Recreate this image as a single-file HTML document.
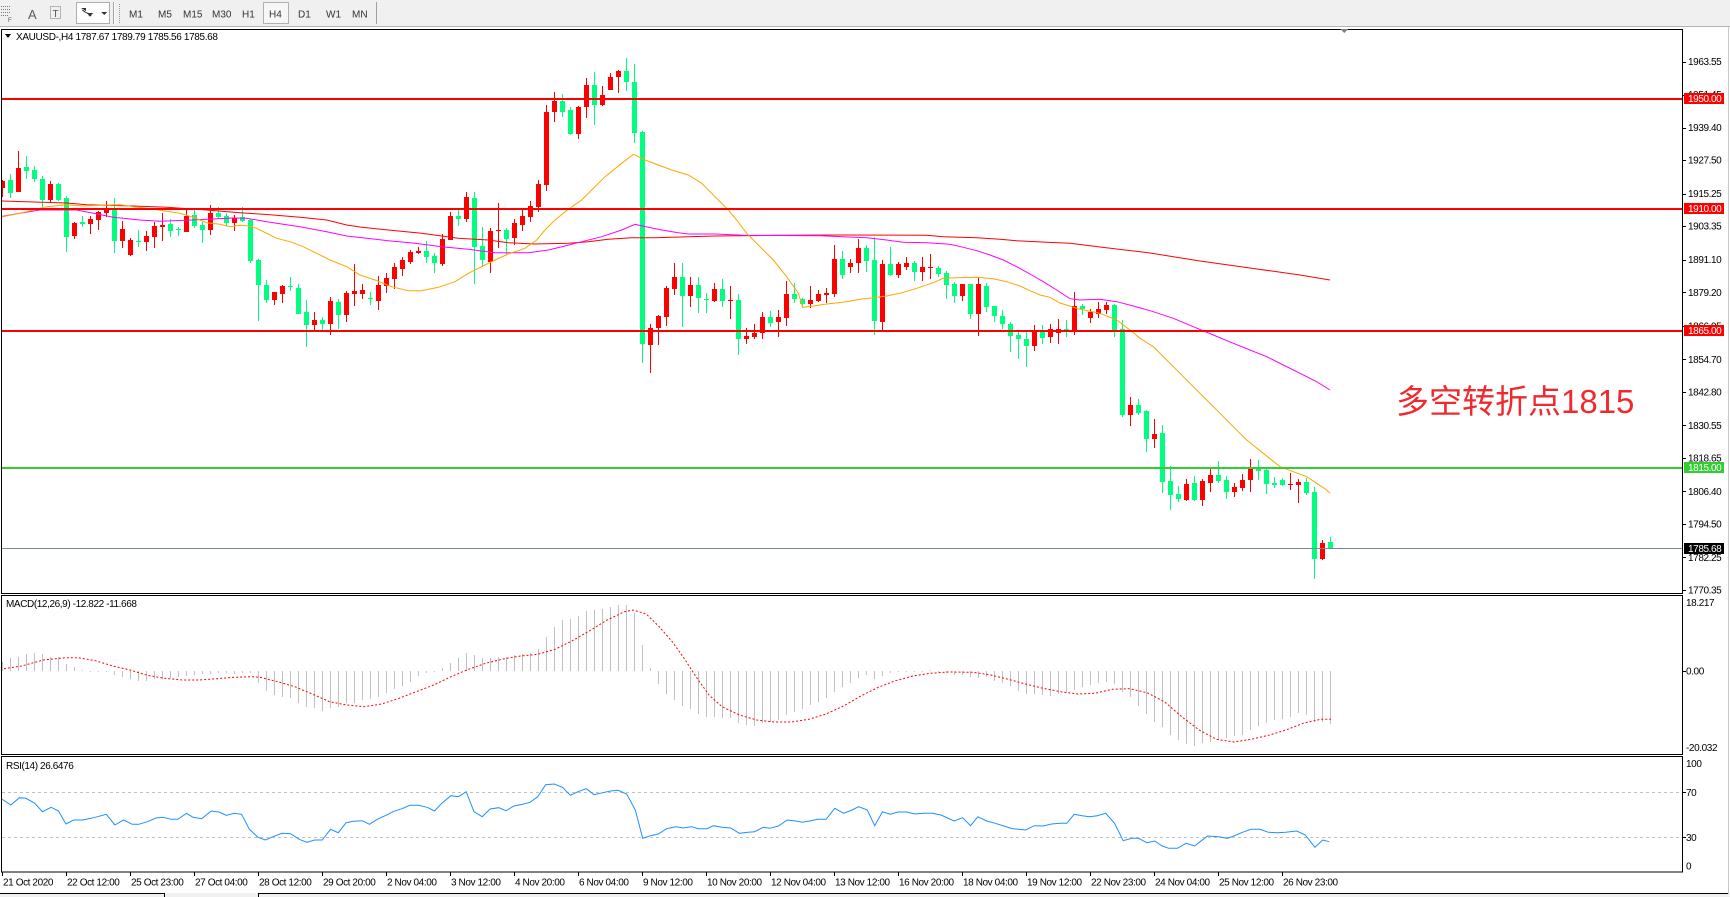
<!DOCTYPE html>
<html><head><meta charset="utf-8">
<style>
html,body{margin:0;padding:0;background:#fff;width:1730px;height:897px;overflow:hidden}
svg{display:block}
text{font-family:"Liberation Sans","Noto Sans CJK SC",sans-serif}
.ax{font-size:10px;letter-spacing:-0.4px;fill:#000}
.tb{font-size:10px;fill:#333}
</style></head><body>
<svg id="c" xmlns="http://www.w3.org/2000/svg" width="1730" height="897" viewBox="0 0 1730 897" shape-rendering="crispEdges">
<defs>
<clipPath id="cm"><rect x="2" y="30" width="1680" height="563"/></clipPath>
<clipPath id="cmacd"><rect x="2" y="596" width="1680" height="158"/></clipPath>
<clipPath id="crsi"><rect x="2" y="757" width="1680" height="115"/></clipPath>
</defs>
<rect x="0" y="0" width="1730" height="897" fill="#fff"/>
<!-- toolbar -->
<rect x="0" y="0" width="1730" height="26" fill="#f0f0f0"/>
<line x1="0" y1="26.5" x2="1730" y2="26.5" stroke="#b4b4b4"/>
<g stroke="#7a7a7a" stroke-dasharray="1 1">
<line x1="1" y1="6.5" x2="10" y2="6.5"/><line x1="1" y1="9.5" x2="10" y2="9.5"/><line x1="1" y1="12.5" x2="10" y2="12.5"/><line x1="1" y1="15.5" x2="8" y2="15.5"/>
</g>
<text x="8" y="22" style="font-size:6px;fill:#555">F</text>
<text x="28" y="19" style="font-size:13px;fill:#5a5a5a">A</text>
<rect x="50.5" y="6.5" width="10" height="12" fill="none" stroke="#777" stroke-dasharray="1 1"/>
<text x="52.5" y="17" style="font-size:10px;fill:#555">T</text>
<rect x="76.5" y="2.5" width="33" height="21" fill="#fdfdfd" stroke="#adadad"/>
<polygon points="81,8 86,8 86,11" fill="#333"/><polygon points="87,13 93,13 90,17" fill="#333"/><line x1="82" y1="10" x2="90" y2="15" stroke="#333"/>
<polygon points="101,12 107,12 104,15" fill="#333"/>
<line x1="113.5" y1="2" x2="113.5" y2="24" stroke="#a0a0a0"/><line x1="114.5" y1="2" x2="114.5" y2="24" stroke="#fff"/>
<line x1="119.5" y1="4" x2="119.5" y2="23" stroke="#999" stroke-dasharray="1 1"/>
<rect x="263.5" y="2.5" width="25" height="21" fill="#f7f7f7" stroke="#b0b0b0"/>
<text class="tb" x="129" y="17.5">M1</text>
<text class="tb" x="158" y="17.5">M5</text>
<text class="tb" x="183" y="17.5">M15</text>
<text class="tb" x="212" y="17.5">M30</text>
<text class="tb" x="242" y="17.5">H1</text>
<text class="tb" x="269" y="17.5">H4</text>
<text class="tb" x="298" y="17.5">D1</text>
<text class="tb" x="326" y="17.5">W1</text>
<text class="tb" x="352" y="17.5">MN</text>
<line x1="376.5" y1="2" x2="376.5" y2="24" stroke="#a0a0a0"/>

<!-- window frames -->
<rect x="1.5" y="29.5" width="1681" height="564" fill="#fff" stroke="#000"/>
<rect x="1.5" y="595.5" width="1681" height="159" fill="#fff" stroke="#000"/>
<rect x="1.5" y="756.5" width="1681" height="115.5" fill="#fff" stroke="#000"/>
<polygon points="1340,29 1348,29 1344,33" fill="#808080"/>

<!-- main chart layers -->
<g id="cd" clip-path="url(#cm)"></g>
<g id="ma" clip-path="url(#cm)" shape-rendering="auto"></g>
<g clip-path="url(#cm)">
<rect x="2" y="98" width="1680" height="2" fill="#ff0000"/>
<rect x="2" y="208" width="1680" height="2" fill="#ff0000"/>
<rect x="2" y="330" width="1680" height="2" fill="#ff0000"/>
<rect x="2" y="467" width="1680" height="2" fill="#32cd32"/>
<rect x="2" y="548" width="1680" height="1" fill="#778899"/>
</g>
<text x="1396" y="413" style="font-size:33px;fill:#ee2a2f;font-family:'Liberation Sans','Noto Sans CJK SC',sans-serif">多空转折点1815</text>

<polygon points="5,34 11,34 8,38" fill="#000"/>
<text class="ax" x="16" y="40" style="letter-spacing:-0.35px">XAUUSD-,H4  1787.67 1789.79 1785.56 1785.68</text>

<!-- price axis -->
<g stroke="#000">
<line x1="1683" y1="62.5" x2="1686" y2="62.5"/><line x1="1683" y1="95.5" x2="1686" y2="95.5"/><line x1="1683" y1="128.5" x2="1686" y2="128.5"/><line x1="1683" y1="160.5" x2="1686" y2="160.5"/><line x1="1683" y1="194.5" x2="1686" y2="194.5"/><line x1="1683" y1="226.5" x2="1686" y2="226.5"/><line x1="1683" y1="260.5" x2="1686" y2="260.5"/><line x1="1683" y1="292.5" x2="1686" y2="292.5"/><line x1="1683" y1="326.5" x2="1686" y2="326.5"/><line x1="1683" y1="359.5" x2="1686" y2="359.5"/><line x1="1683" y1="392.5" x2="1686" y2="392.5"/><line x1="1683" y1="425.5" x2="1686" y2="425.5"/><line x1="1683" y1="458.5" x2="1686" y2="458.5"/><line x1="1683" y1="491.5" x2="1686" y2="491.5"/><line x1="1683" y1="524.5" x2="1686" y2="524.5"/><line x1="1683" y1="557.5" x2="1686" y2="557.5"/><line x1="1683" y1="590.5" x2="1686" y2="590.5"/>
<line x1="1683" y1="671.5" x2="1686" y2="671.5"/><line x1="1683" y1="792.5" x2="1686" y2="792.5"/><line x1="1683" y1="837.5" x2="1686" y2="837.5"/>
</g>
<text class="ax" x="1688" y="65.2">1963.55</text>
<text class="ax" x="1688" y="98.2">1951.45</text>
<text class="ax" x="1688" y="131.2">1939.40</text>
<text class="ax" x="1688" y="163.7">1927.50</text>
<text class="ax" x="1688" y="197.2">1915.25</text>
<text class="ax" x="1688" y="229.7">1903.35</text>
<text class="ax" x="1688" y="263.2">1891.10</text>
<text class="ax" x="1688" y="295.8">1879.20</text>
<text class="ax" x="1688" y="329.3">1866.95</text>
<text class="ax" x="1688" y="362.8">1854.70</text>
<text class="ax" x="1688" y="395.3">1842.80</text>
<text class="ax" x="1688" y="428.8">1830.55</text>
<text class="ax" x="1688" y="461.3">1818.65</text>
<text class="ax" x="1688" y="494.8">1806.40</text>
<text class="ax" x="1688" y="527.3">1794.50</text>
<text class="ax" x="1688" y="560.8">1782.25</text>
<text class="ax" x="1688" y="593.4">1770.35</text>
<rect x="1684" y="93" width="40" height="11" fill="#ff0000"/>
<text class="ax" x="1688" y="102.2" style="fill:#fff">1950.00</text>
<rect x="1684" y="203" width="40" height="11" fill="#ff0000"/>
<text class="ax" x="1688" y="212.2" style="fill:#fff">1910.00</text>
<rect x="1684" y="325" width="40" height="11" fill="#ff0000"/>
<text class="ax" x="1688" y="334.2" style="fill:#fff">1865.00</text>
<rect x="1684" y="462" width="40" height="11" fill="#32cd32"/>
<text class="ax" x="1688" y="471.2" style="fill:#fff">1815.00</text>
<rect x="1684" y="543" width="40" height="11" fill="#000"/>
<text class="ax" x="1688" y="552.2" style="fill:#fff">1785.68</text>

<!-- MACD -->
<g id="macd" clip-path="url(#cmacd)"></g>
<text class="ax" x="6" y="607">MACD(12,26,9) -12.822 -11.668</text>
<text class="ax" x="1686" y="606">18.217</text>
<text class="ax" x="1686" y="674.6">0.00</text>
<text class="ax" x="1686" y="751">-20.032</text>

<!-- RSI -->
<g clip-path="url(#crsi)">
<line x1="2" y1="792.5" x2="1682" y2="792.5" stroke="#c0c0c0" stroke-dasharray="3 3"/>
<line x1="2" y1="837.5" x2="1682" y2="837.5" stroke="#c0c0c0" stroke-dasharray="3 3"/>
</g>
<g id="rsi" clip-path="url(#crsi)" shape-rendering="auto"></g>
<text class="ax" x="6" y="769">RSI(14) 26.6476</text>
<text class="ax" x="1686" y="767">100</text>
<text class="ax" x="1686" y="796">70</text>
<text class="ax" x="1686" y="841">30</text>
<text class="ax" x="1686" y="869.5">0</text>

<!-- date axis -->
<g stroke="#000">
<line x1="2.5" y1="872" x2="2.5" y2="876"/><line x1="66.5" y1="872" x2="66.5" y2="876"/><line x1="130.5" y1="872" x2="130.5" y2="876"/><line x1="194.5" y1="872" x2="194.5" y2="876"/><line x1="258.5" y1="872" x2="258.5" y2="876"/><line x1="322.5" y1="872" x2="322.5" y2="876"/><line x1="386.5" y1="872" x2="386.5" y2="876"/><line x1="450.5" y1="872" x2="450.5" y2="876"/><line x1="514.5" y1="872" x2="514.5" y2="876"/><line x1="578.5" y1="872" x2="578.5" y2="876"/><line x1="642.5" y1="872" x2="642.5" y2="876"/><line x1="706.5" y1="872" x2="706.5" y2="876"/><line x1="770.5" y1="872" x2="770.5" y2="876"/><line x1="834.5" y1="872" x2="834.5" y2="876"/><line x1="898.5" y1="872" x2="898.5" y2="876"/><line x1="962.5" y1="872" x2="962.5" y2="876"/><line x1="1026.5" y1="872" x2="1026.5" y2="876"/><line x1="1090.5" y1="872" x2="1090.5" y2="876"/><line x1="1154.5" y1="872" x2="1154.5" y2="876"/><line x1="1218.5" y1="872" x2="1218.5" y2="876"/><line x1="1282.5" y1="872" x2="1282.5" y2="876"/>
</g>
<text class="ax" x="3" y="885.5">21 Oct 2020</text>
<text class="ax" x="67" y="885.5">22 Oct 12:00</text>
<text class="ax" x="131" y="885.5">25 Oct 23:00</text>
<text class="ax" x="195" y="885.5">27 Oct 04:00</text>
<text class="ax" x="259" y="885.5">28 Oct 12:00</text>
<text class="ax" x="323" y="885.5">29 Oct 20:00</text>
<text class="ax" x="387" y="885.5">2 Nov 04:00</text>
<text class="ax" x="451" y="885.5">3 Nov 12:00</text>
<text class="ax" x="515" y="885.5">4 Nov 20:00</text>
<text class="ax" x="579" y="885.5">6 Nov 04:00</text>
<text class="ax" x="643" y="885.5">9 Nov 12:00</text>
<text class="ax" x="707" y="885.5">10 Nov 20:00</text>
<text class="ax" x="771" y="885.5">12 Nov 04:00</text>
<text class="ax" x="835" y="885.5">13 Nov 12:00</text>
<text class="ax" x="899" y="885.5">16 Nov 20:00</text>
<text class="ax" x="963" y="885.5">18 Nov 04:00</text>
<text class="ax" x="1027" y="885.5">19 Nov 12:00</text>
<text class="ax" x="1091" y="885.5">22 Nov 23:00</text>
<text class="ax" x="1155" y="885.5">24 Nov 04:00</text>
<text class="ax" x="1219" y="885.5">25 Nov 12:00</text>
<text class="ax" x="1283" y="885.5">26 Nov 23:00</text>

<!-- bottom tabs / edges -->
<rect x="0" y="893" width="1730" height="4" fill="#f0f0f0"/>
<line x1="0" y1="893.5" x2="164" y2="893.5" stroke="#000"/>
<line x1="258" y1="893.5" x2="1728" y2="893.5" stroke="#000"/>
<line x1="164.5" y1="893" x2="164.5" y2="897" stroke="#000"/>
<line x1="258.5" y1="893" x2="258.5" y2="897" stroke="#000"/>
<line x1="1728.5" y1="27" x2="1728.5" y2="894" stroke="#c8c8c8"/>
</svg>
<script>
(function(){
var NS='http://www.w3.org/2000/svg';
function mk(t,a,p){var e=document.createElementNS(NS,t);for(var k in a)e.setAttribute(k,a[k]);p.appendChild(e);return e;}
var A=[[1,152,175,150,200],[0,150,188,132,203],[1,114,185,63,185],[0,111,122,78,147],[0,120,147,108,155],[0,148,210,138,232],[1,162,210,153,216],[0,162,210,158,214],[0,204,320,197,365],[1,279,318,275,327],[0,276,281,258,290],[1,267,281,258,311],[1,246,269,243,299],[1,237,248,213,260],[0,238,332,205,368],[1,297,332,273,355],[1,330,375,324,377],[0,333,335,300,350],[1,318,335,303,363],[1,289,320,275,353],[1,286,290,249,332],[0,282,302,267,320],[0,298,300,292,317],[1,259,305,237,305],[0,256,287,240,293],[0,285,299,277,338],[1,249,299,226,314],[0,250,262,230,268],[0,258,278,248,288],[1,265,278,255,302],[0,262,272,232,275],[0,270,393,268,398],[0,390,464,386,572],[0,464,509,450,519],[1,487,509,485,524],[1,468,491,466,518],[0,468,472,441,483],[0,474,551,462,551],[0,546,584,510,650],[1,570,584,547,600],[0,570,581,561,600],[1,513,581,501,614],[0,516,554,508,597],[1,490,554,483,576],[1,483,491,401,527]];
var B=[[1,720,731,703,746],[0,744,748,727,765],[1,705,752,678,780],[1,684,708,670,728],[1,651,687,640,718],[1,630,656,620,678],[1,606,635,600,641],[1,603,608,591,613],[0,603,621,574,638],[0,618,639,609,668],[1,567,641,551,648],[1,498,569,486,569],[0,498,506,480,528],[1,441,506,426,515],[0,444,590,426,702],[0,588,630,530,650],[1,543,636,535,668],[1,540,542,460,593],[0,540,567,533,612],[1,519,563,508,585],[1,497,524,480,542],[1,468,500,452,515],[1,402,470,390,487],[1,186,405,165,422],[1,153,187,126,215],[0,153,185,132,200],[0,180,251,170,255],[1,171,251,168,268],[1,105,170,84,203],[0,105,164,66,224],[1,135,165,108,168],[1,81,119,69,119],[1,62,82,59,130],[0,63,95,24,122],[0,96,248,42,278],[0,246,881,244,938],[1,834,884,822,968],[1,798,833,796,886],[1,714,800,708,827],[1,681,716,638,735],[0,681,737,638,830],[1,705,737,682,770],[0,705,745,682,790],[0,746,751,728,790]];
var C=[[1,268,303,250,306],[0,268,302,238,320],[1,299,304,259,358],[0,300,416,283,466],[1,408,416,385,433],[1,398,410,373,416],[1,351,398,337,416],[0,351,368,333,380],[1,351,366,330,410],[1,282,354,243,377],[0,282,298,250,310],[0,297,312,293,325],[1,300,312,259,325],[1,282,303,270,306],[1,279,285,265,310],[1,177,282,135,290],[0,177,225,153,236],[1,188,200,176,220],[1,144,190,118,220],[0,144,182,135,215],[0,180,362,112,404],[1,192,365,180,390],[0,192,225,141,228],[1,192,225,185,233],[1,188,200,170,210],[0,188,215,183,242],[1,201,215,170,242],[1,201,203,162,236],[0,204,222,199,230],[0,220,255,213,298],[0,251,287,245,308],[1,251,287,251,302],[0,251,342,251,358],[1,251,342,232,408],[0,258,320,250,335],[0,318,347,318,366],[0,347,373,330,388],[0,371,408,365,456],[0,405,417,395,478],[0,417,438,395,500],[1,390,438,375,452],[0,392,413,376,432],[1,387,410,372,430],[1,387,398,357,432],[0,387,392,360,410]];
var D=[[1,78,153,36,165],[0,77,86,72,105],[1,97,113,88,128],[1,87,102,66,113],[1,75,90,66,102],[0,75,152,72,170],[0,148,405,120,410],[1,375,405,351,437],[0,375,398,357,405],[0,392,478,389,515],[1,462,478,416,503],[0,460,605,435,640],[0,603,645,557,690],[0,642,657,618,665],[1,612,660,597,662],[0,609,660,587,662],[1,603,660,597,677],[1,585,608,567,635],[0,585,603,543,608],[0,600,635,587,657],[1,621,635,609,651],[1,600,624,582,633],[1,567,600,537,636],[0,565,572,540,600],[0,570,611,563,642],[0,609,615,591,625],[0,600,614,594,617],[1,611,614,578,630],[1,605,614,597,668],[0,605,638,594,645],[0,636,836,621,898],[1,790,836,780,840],[0,786,806,770,806]];
var gC=document.getElementById('cd');
function seg(arr,oy,k0){for(var i=0;i<arr.length;i++){var c=arr[i],k=k0+i,x=8*k,col=c[0]?'#ff0000':'#00ff7f';
var wt=Math.round(oy+c[3]/3),wb=Math.round(oy+c[4]/3),bt=Math.round(oy+c[1]/3),bb=Math.round(oy+c[2]/3);
if(wb<=wt)wb=wt+1;if(bb<=bt)bb=bt+1;
mk('rect',{x:x+2,y:wt,width:1,height:wb-wt,fill:col},gC);
mk('rect',{x:x,y:bt,width:5,height:bb-bt,fill:col},gC);}}
seg(A,130,0);seg(B,50,45);seg(C,200,89);seg(D,280,134);
function pl(arr,stroke,parent,extra){var s='';for(var i=0;i<arr.length;i+=2)s+=(+arr[i]).toFixed(1)+','+(+arr[i+1]).toFixed(1)+' ';var a={points:s,fill:'none',stroke:stroke,'stroke-width':1};if(extra)for(var k in extra)a[k]=extra[k];return mk('polyline',a,parent);}
var gM=document.getElementById('ma');
var red=[0,201,66.7,203,86.7,204.7,133.3,206,166.7,207.3,206.7,210,240,212.7,273.3,215,300,217.3,326.7,220,346.7,225,360,227,388.3,230,421.7,233.3,441.7,236,458.3,238.3,488.3,240,508.3,242.7,535,244,568.3,243.3,588.3,241.7,608.3,239.3,631.7,237.7,655,237.7,688.3,236.7,715,236,776.7,235.3,843.3,235,926.7,235.3,943.3,236.7,976.7,237.7,1000,239.3,1016.7,240.7,1046.7,242.3,1070,243.3,1100,247,1150,253,1200,261,1250,268,1300,275,1330,280];
var mag=[0,216.7,20,213.3,40,210,63.3,210,76.7,210,93.3,213.3,113.3,217.3,140,220,160,221.3,186.7,220.3,233.3,218,246.7,218.3,266.7,221.7,300,226.7,326.7,231.7,346.7,236,360,237.5,388.3,240.7,415,243.3,441.7,246.7,468.3,249.3,495,252.7,528.3,252.7,548.3,250,565,246,581.7,241.7,601.7,236.7,621.7,230,635,224.3,648.3,227.3,661.7,230,678.3,232.7,688.3,234,715,234,743.3,235.3,820,235.7,866.7,237.7,886.7,240,903.3,242.3,926.7,242.7,950,244.3,963.3,247.3,976.7,250.7,990,255,1003.3,260,1016.7,266.7,1030,274,1043.3,281.7,1056.7,290,1070,298.7,1080,300,1100,299.3,1116.7,301.7,1133.3,306,1153.3,311.7,1173.3,318.3,1193.3,326.7,1213.3,335,1233.3,343.3,1250,350,1266.7,356.7,1283.3,365,1300,373.3,1316.7,381.7,1330,390];
var ora=[0,217.3,20,213.3,33.3,210,46.7,206.7,66.7,204.7,83.3,206,100,205.3,120,204.7,133.3,206.7,146.7,208.3,163.3,210.7,180,213.3,193.3,217.3,206.7,222.7,220,224.3,230,226.7,240,225.3,246.7,225.7,256.7,228.3,266.7,233.3,276.7,238.3,290,241.7,303.3,246.7,316.7,253.3,330,260,346.7,266.7,360,275,375,280,391.7,286.7,408.3,290.7,421.7,290.7,438.3,287.3,455,281.7,468.3,273.3,481.7,266.7,495,260,508.3,254,525,248.3,536.7,240,545,230,555,220,568.3,209.3,581.7,200,591.7,190,605,176.7,621.7,163.3,633.3,154.3,645,160,658.3,165,671.7,170,688.3,175,701.7,183.3,715,196.7,718.3,200,728.3,210,736.7,220,746.7,233.3,760,246.7,773.3,260,786.7,276.7,798.3,293.3,802.7,307.3,813.3,306,826.7,304,846.7,301.7,860,299.3,873.3,297.7,886.7,296,900,293.3,916.7,288.3,933.3,282.7,943.3,278.3,956.7,277.7,976.7,277.3,993.3,278.7,1006.7,281.7,1020,286,1030,290.7,1040,295,1050,297.3,1060,303,1080,309.3,1100,313.3,1116.7,320,1130,330,1140,338.3,1153.3,346.7,1166.7,360,1180,373.3,1193.3,386.7,1206.7,400,1220,413.3,1233.3,426.7,1246.7,440,1263.3,453.3,1280,466.7,1293.3,471.7,1306.7,476.7,1316.7,483.3,1326.7,490,1330,493.3];
pl(red,'#ff0000',gM);pl(mag,'#ff00ff',gM);pl(ora,'#ffa500',gM);
var H=[215,205,200,192,190,193,200,202,222,232,241,243,245,245,255,260,268,272,272,268,266,265,262,258,255,253,252,250,250,251,248,250,280,302,315,322,325,338,350,355,362,355,352,340,338,330,328,320,308,298,288,275,258,248,245,235,218,205,190,195,205,205,200,200,195,192,190,178,142,112,90,88,78,62,60,58,50,46,45,70,165,235,282,312,330,348,358,372,380,382,383,385,398,405,407,400,395,390,375,365,358,345,335,325,305,292,280,265,255,268,258,250,246,245,244,243,240,243,250,255,255,262,265,262,272,280,288,302,312,312,315,318,312,305,300,290,285,278,275,282,305,322,348,372,395,412,435,450,462,468,458,455,450,445,437,435,420,408,398,390,388,380,370,375,395,395,402];
var gD=document.getElementById('macd');
for(var k=0;k<H.length;k++){var y=Math.round(590+H[k]/3);var y0=671;var t=Math.min(y,y0),b=Math.max(y,y0);if(b-t<1)b=t+1;mk('rect',{x:8*k+2,y:t,width:1,height:b-t,fill:'#c0c0c0'},gD);}
var SX=680/1568;
function cv(arr,ox,oy){var o=[];for(var i=0;i<arr.length;i+=2){o.push(ox+arr[i]*SX,oy+arr[i+1]/3);}return o;}
var sig9=[0,238,50,228,100,210,150,203,180,203,220,212,260,228,300,240,340,256,380,265,420,270,460,270,500,266,540,262,580,260,600,262,640,275,680,290,720,312,760,335,800,345,840,350,880,342,920,325,960,305,1000,285,1040,260,1080,238,1120,220,1160,207,1200,198,1240,193,1280,178,1320,152,1360,122,1400,90,1440,65,1460,60,1490,72,1520,110,1550,155];
var sig10=[30,200,60,260,90,315,120,350,160,375,200,390,240,396,280,396,320,388,360,372,400,348,440,318,480,292,520,272,560,258,600,250,640,246,700,247,740,255,780,268,820,282,860,295,900,305,940,312,980,310,1020,298,1060,296,1100,308,1140,335,1180,380,1220,420,1260,448,1300,456,1340,448,1380,436,1420,420,1460,400,1500,388,1524,388];
pl(cv(sig9,0,590).concat(cv(sig10,670,590)),'#ff0000',gD,{'stroke-dasharray':'2 2','shape-rendering':'auto'});
var rsi9=[5,628,25,645,45,623,60,625,80,640,98,665,118,652,135,663,152,702,170,690,190,690,210,685,225,680,245,673,265,705,285,690,305,703,320,703,340,695,360,684,375,682,395,688,410,688,430,670,445,682,465,686,487,663,505,666,522,676,540,670,557,673,575,718,595,742,612,750,630,740,650,730,670,731,690,748,708,757,725,750,743,750,762,718,780,728,798,698,815,694,835,692,852,703,870,688,890,676,908,664,927,656,945,646,965,646,985,652,1002,663,1020,638,1040,617,1057,620,1075,605,1093,665,1112,680,1130,657,1150,653,1167,662,1185,648,1205,643,1222,637,1240,620,1258,584,1278,582,1297,592,1315,616,1333,605,1352,596,1370,614,1390,608,1408,603,1425,601,1445,612,1465,660,1482,745,1500,737,1518,732,1537,716,1555,711];
var rsi10=[15,710,30,714,50,710,65,716,85,716,100,707,120,712,140,714,160,730,180,727,195,725,215,712,230,715,250,708,270,690,290,693,305,697,325,692,340,688,360,688,380,655,400,670,420,660,435,650,455,660,472,707,490,665,508,673,525,666,545,666,565,672,585,670,605,670,625,675,655,693,675,683,693,707,710,680,730,693,750,700,770,708,790,716,820,720,840,707,860,708,880,702,900,700,915,700,932,673,950,677,968,680,985,677,1005,670,1025,700,1045,752,1065,745,1080,745,1100,758,1118,753,1135,768,1150,775,1170,775,1190,760,1210,768,1225,752,1240,738,1265,740,1285,745,1300,738,1320,727,1340,718,1360,718,1380,727,1400,728,1420,727,1445,723,1465,735,1487,772,1505,750,1520,755];
pl(cv(rsi9,0,590).concat(cv(rsi10,670,590)),'#1e90ff',document.getElementById('rsi'));
})();
</script>
</body></html>
